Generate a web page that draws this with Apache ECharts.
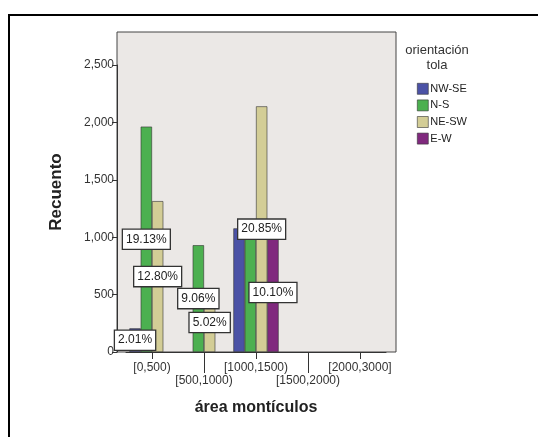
<!DOCTYPE html>
<html>
<head>
<meta charset="utf-8">
<script src="https://cdn.jsdelivr.net/npm/echarts@6/dist/echarts.min.js"></script>
<style>html,body{margin:0;padding:0;background:#fff;}#c{width:538px;height:437px;}</style>
</head>
<body>
<div id="c"></div>
<script>
const categories = ['[0,500)', '[500,1000)', '[1000,1500)', '[1500,2000)', '[2000,3000]'];
const seriesNames = ['NW-SE', 'N-S', 'NE-SW', 'E-W'];
const nwse = [206, 0, 1077, 0, 0];
const ns = [1963, 930, 1082, 0, 0];
const nesw = [1314, 515, 2140, 0, 0];
const ew = [0, 0, 1037, 0, 0];
const pctNwse = ['2.01%', null, null, null, null];
const pctNs = ['19.13%', '9.06%', null, null, null];
const pctNesw = ['12.80%', '5.02%', '20.85%', null, null];
const pctEw = [null, null, '10.10%', null, null];
const yTicks = [0, 500, 1000, 1500, 2000, 2500];
const colors = ['#4b52a6', '#4cb050', '#d3cd96', '#80297e'];

const values = [nwse, ns, nesw, ew];
const pcts = [pctNwse, pctNs, pctNesw, pctEw];
const FONT = 'Liberation Sans, Arial, sans-serif';

const chart = echarts.init(document.getElementById('c'), null, {renderer: 'canvas'});
const series = seriesNames.map((name, s) => ({
  name: name,
  type: 'bar',
  xAxisIndex: 0,
  yAxisIndex: 1,
  barGap: '0%',
  barCategoryGap: '13%',
  itemStyle: {color: colors[s], borderColor: '#333', borderWidth: 0.6},
  label: {
    show: false,
    position: 'inside',
    color: '#222',
    fontFamily: FONT,
    fontSize: 12,
    backgroundColor: '#fff',
    borderColor: '#333',
    borderWidth: 1.3,
    padding: [4, 3, 3, 3],
    formatter: (p) => pcts[s][p.dataIndex] || ''
  },
  data: values[s].map((v, i) => ({
    value: v,
    itemStyle: v === 0 ? {borderWidth: 0} : {},
    label: {show: !!pcts[s][i]}
  }))
}));

chart.setOption({
  animation: false,
  backgroundColor: '#fff',
  textStyle: {fontFamily: FONT},
  grid: [
    {left: 117, top: 32, width: 279, height: 320, show: true, backgroundColor: '#ebe8e6', borderColor: '#444', borderWidth: 1, z: 0},
    {left: 126, top: 65, width: 260, height: 287}
  ],
  xAxis: [
    {type: 'category', gridIndex: 1, data: categories, position: 'bottom',
     axisLine: {show: true, lineStyle: {color: '#333'}},
     axisTick: {show: true, alignWithLabel: true, length: 7, interval: (i) => i % 2 === 0, lineStyle: {color: '#333'}},
     axisLabel: {interval: (i) => i % 2 === 0, margin: 10, fontSize: 12, color: '#333', fontFamily: FONT},
     name: 'área montículos', nameLocation: 'middle', nameGap: 48,
     nameTextStyle: {fontSize: 16, fontWeight: 'bold', color: '#222', fontFamily: FONT}},
    {type: 'category', gridIndex: 1, data: categories, position: 'bottom',
     axisLine: {show: false},
     axisTick: {show: true, alignWithLabel: true, length: 21, interval: (i) => i % 2 === 1, lineStyle: {color: '#333'}},
     axisLabel: {interval: (i) => i % 2 === 1, margin: 23, fontSize: 12, color: '#333', fontFamily: FONT}},
    {type: 'value', gridIndex: 0, show: false, min: 0, max: 1}
  ],
  yAxis: [
    {type: 'value', gridIndex: 0, min: 0, max: 1, axisLine: {show: false}, axisTick: {show: false}, axisLabel: {show: false}, splitLine: {show: false},
     name: 'Recuento', nameLocation: 'middle', nameGap: 52,
     nameTextStyle: {fontSize: 17, fontWeight: 'bold', color: '#222', fontFamily: FONT}},
    {type: 'value', gridIndex: 1, min: yTicks[0], max: yTicks[yTicks.length - 1], interval: 500, offset: 9,
     axisLine: {show: true, lineStyle: {color: '#333'}},
     axisTick: {show: true, length: 5, lineStyle: {color: '#333'}},
     splitLine: {show: false},
     axisLabel: {fontSize: 12, color: '#333', margin: 3, fontFamily: FONT, formatter: (v) => v.toLocaleString('en-US')}}
  ],
  legend: {
    orient: 'vertical', left: 412, top: 78, itemWidth: 11, itemHeight: 11, itemGap: 5, icon: 'rect',
    itemStyle: {borderColor: '#333', borderWidth: 0.6},
    textStyle: {fontSize: 11, color: '#222', fontFamily: FONT, padding: [0, 0, 0, -3]},
    data: seriesNames
  },
  graphic: [
    {type: 'rect', shape: {x: 9, y: 15, width: 600, height: 500}, style: {fill: 'none', stroke: '#000', lineWidth: 2}, silent: true},
    {type: 'text', x: 437, y: 43, style: {text: 'orientación\ntola', textAlign: 'center', fontSize: 13, lineHeight: 15, fill: '#333', fontFamily: FONT}, silent: true}
  ],
  series: series
});
</script>
</body>
</html>
